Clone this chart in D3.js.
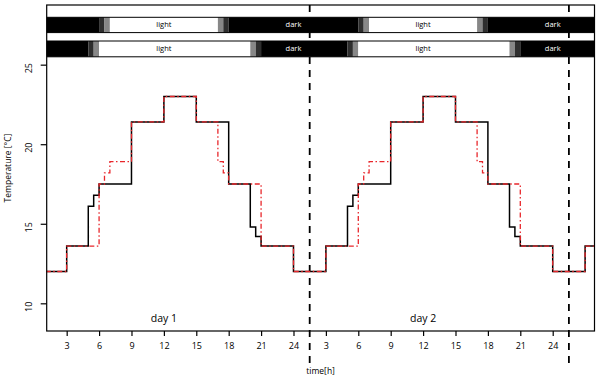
<!DOCTYPE html>
<html>
<head>
<meta charset="utf-8">
<script src="https://cdn.jsdelivr.net/npm/d3@7"></script>
<style>
  body { margin: 0; background: #fff; }
  text { font-family: "Open Sans", sans-serif; }
</style>
</head>
<body>
<div id="viz"></div>
<script>
// step series, hours on a continuous clock (day 2 = 24..48)
const blackHours = [0, 3, 5, 5.5, 6, 9, 12, 15, 18, 20, 20.5, 21, 24, 27, 29, 29.5, 30, 33, 36, 39, 42, 44, 44.5, 45, 48, 51, 53];
const blackTemp  = [12, 13.6, 16.1, 16.8, 17.5, 21.4, 23, 21.4, 17.5, 14.8, 14.2, 13.6, 12, 13.6, 16.1, 16.8, 17.5, 21.4, 23, 21.4, 17.5, 14.8, 14.2, 13.6, 12, 13.6, 13.6];
const redHours = [0, 3, 6, 6.5, 7, 9, 12, 15, 17, 17.5, 18, 21, 24, 27, 30, 30.5, 31, 33, 36, 39, 41, 41.5, 42, 45, 48, 51, 53];
const redTemp  = [12, 13.6, 17.5, 18.2, 18.9, 21.4, 23, 21.4, 18.9, 18.2, 17.5, 13.6, 12, 13.6, 17.5, 18.2, 18.9, 21.4, 23, 21.4, 18.9, 18.2, 17.5, 13.6, 12, 13.6, 13.6];

// light/dark bands: breaks and shade of each segment
const shades = ["dark", "dim", "dusk", "light", "dusk", "dim", "dark", "dim", "dusk", "light", "dusk", "dim", "dark"];
const band1Breaks = [0, 6, 6.5, 7, 17, 17.5, 18, 30, 30.5, 31, 41, 41.5, 42, 53];
const band2Breaks = [0, 5, 5.5, 6, 20, 20.5, 21, 29, 29.5, 30, 44, 44.5, 45, 53];
const bandLabels = [{h: 12, t: "light"}, {h: 24, t: "dark"}, {h: 36, t: "light"}, {h: 48, t: "dark"}];

const xTicks = [3, 6, 9, 12, 15, 18, 21, 24, 27, 30, 33, 36, 39, 42, 45, 48];
const xTickLabels = ["3", "6", "9", "12", "15", "18", "21", "24", "3", "6", "9", "12", "15", "18", "21", "24"];
const yTicks = [10, 15, 20, 25];
const dayBreaks = [25.5, 49.5];
const dayLabels = [{h: 12, t: "day 1"}, {h: 36, t: "day 2"}];

const shadeColor = {dark: "#000", dim: "#2e2e2e", dusk: "#878787", light: "#fff"};

const W = 600, H = 379;
const L = 46.7, R = 594.5, T = 5, B = 331;

const svg = d3.select("#viz").append("svg")
  .attr("width", W)
  .attr("height", H);

const x = d3.scaleLinear().domain([1.15, 51.87]).range([L, R]);
const y = d3.scaleLinear().domain([8.26, 28.75]).range([B, T]);

svg.append("defs").append("clipPath").attr("id", "clip")
  .append("rect").attr("x", L).attr("y", T).attr("width", R - L).attr("height", B - T);

// dashed day separators (behind bands)
svg.selectAll("line.sep").data(dayBreaks).enter()
  .append("line").classed("sep", true)
  .attr("x1", x).attr("x2", x)
  .attr("y1", T).attr("y2", 366)
  .attr("stroke", "#000")
  .attr("stroke-width", 1.8)
  .attr("stroke-dasharray", "7,6");

const plot = svg.append("g").attr("clip-path", "url(#clip)");

function band(breaks, y0, y1) {
  const segs = shades.map((s, i) => ({a: breaks[i], b: breaks[i + 1], s: s}));
  const g = plot.append("g");
  g.selectAll("rect").data(segs).enter()
    .append("rect")
    .attr("x", d => x(d.a))
    .attr("width", d => x(d.b) - x(d.a))
    .attr("y", y0)
    .attr("height", y1 - y0)
    .attr("fill", d => shadeColor[d.s]);
  g.append("line").attr("x1", L).attr("x2", R).attr("y1", y0).attr("y2", y0).attr("stroke", "#000");
  g.append("line").attr("x1", L).attr("x2", R).attr("y1", y1).attr("y2", y1).attr("stroke", "#000");
  g.selectAll("text").data(bandLabels).enter()
    .append("text")
    .attr("x", d => x(d.h))
    .attr("y", (y0 + y1) / 2 + 2.5)
    .attr("text-anchor", "middle")
    .attr("font-size", 7.5)
    .attr("fill", d => d.t === "light" ? "#000" : "#fff")
    .text(d => d.t);
}
band(band1Breaks, 17.3, 32.6);
band(band2Breaks, 41, 56.8);

// step lines
const line = d3.line().curve(d3.curveStepAfter);
plot.append("path")
  .datum(blackHours.map((h, i) => [x(h), y(blackTemp[i])]))
  .attr("d", line)
  .attr("fill", "none")
  .attr("stroke", "#000")
  .attr("stroke-width", 1.5);
plot.append("path")
  .datum(redHours.map((h, i) => [x(h), y(redTemp[i])]))
  .attr("d", line)
  .attr("fill", "none")
  .attr("stroke", "#e8262b")
  .attr("stroke-width", 1.3)
  .attr("stroke-dasharray", "5,2.5,1.5,2.5");

// frame
svg.append("rect")
  .attr("x", L).attr("y", T)
  .attr("width", R - L).attr("height", B - T)
  .attr("fill", "none")
  .attr("stroke", "#000")
  .attr("stroke-width", 1.2);

// axes
const xAxis = svg.append("g")
  .attr("transform", `translate(0,${B})`)
  .call(d3.axisBottom(x).tickValues(xTicks).tickFormat((d, i) => xTickLabels[i]).tickSize(5).tickPadding(7));
xAxis.select(".domain").remove();
xAxis.selectAll("line").attr("stroke-width", 1.2);
xAxis.selectAll("text").attr("font-size", 9).attr("font-family", "Open Sans, sans-serif");

const yAxis = svg.append("g")
  .attr("transform", `translate(${L},0)`)
  .call(d3.axisLeft(y).tickValues(yTicks).tickSize(6));
yAxis.select(".domain").remove();
yAxis.selectAll("line").attr("stroke-width", 1.2);
yAxis.selectAll("text")
  .attr("font-size", 9)
  .attr("font-family", "Open Sans, sans-serif")
  .attr("text-anchor", "middle")
  .attr("x", 0).attr("dy", 0)
  .attr("transform", "translate(-15,3) rotate(-90)");

// annotations
svg.selectAll("text.day").data(dayLabels).enter()
  .append("text").classed("day", true)
  .attr("x", d => x(d.h))
  .attr("y", 322)
  .attr("text-anchor", "middle")
  .attr("font-size", 10.5)
  .text(d => d.t);

svg.append("text")
  .attr("x", (L + R) / 2)
  .attr("y", 374)
  .attr("text-anchor", "middle")
  .attr("font-size", 8.5)
  .text("time[h]");

svg.append("text")
  .attr("transform", `translate(11,${(T + B) / 2}) rotate(-90)`)
  .attr("text-anchor", "middle")
  .attr("font-size", 8.5)
  .text("Temperature [°C]");
</script>
</body>
</html>
